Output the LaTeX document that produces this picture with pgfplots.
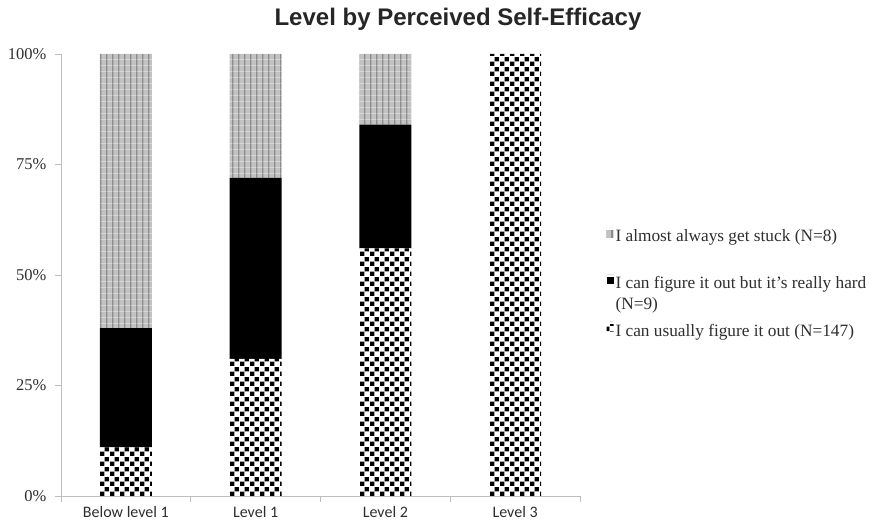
\documentclass[border=0pt]{standalone}
\usepackage{fontspec}
\setmainfont{Liberation Serif}
\newfontfamily\titlefont{Liberation Sans}
\newfontfamily\catfont{Carlito}
\usepackage{pgfplots}
\pgfplotsset{compat=1.18}
\usetikzlibrary{patterns,calc}

\definecolor{stripebg}{HTML}{C2C2C2}
\definecolor{stripefg}{HTML}{8C8C8C}
\definecolor{axisgray}{HTML}{BDBDBD}
\definecolor{labelgray}{HTML}{2E2E2E}

% light grey with thin darker vertical stripes
\pgfdeclarepatterninherentlycolored{graystripes}{\pgfpointorigin}{\pgfpoint{5.8pt}{5.8pt}}{\pgfpoint{5.8pt}{5.8pt}}{%
  \pgfsetfillcolor{stripebg}%
  \pgfpathrectangle{\pgfpointorigin}{\pgfpoint{5.8pt}{5.8pt}}\pgfusepath{fill}%
  \pgfsetfillcolor{stripefg}%
  \pgfpathrectangle{\pgfpoint{2.2pt}{0pt}}{\pgfpoint{1.3pt}{5.8pt}}\pgfusepath{fill}%
}
% small black/white checkerboard
\pgfdeclarepatterninherentlycolored{smallchecks}{\pgfpointorigin}{\pgfpoint{10pt}{10pt}}{\pgfpoint{10pt}{10pt}}{%
  \pgfsetfillcolor{white}%
  \pgfpathrectangle{\pgfpointorigin}{\pgfpoint{10pt}{10pt}}\pgfusepath{fill}%
  \pgfsetfillcolor{black}%
  \pgfpathrectangle{\pgfpoint{0.2pt}{0.2pt}}{\pgfpoint{4.6pt}{4.6pt}}\pgfusepath{fill}%
  \pgfpathrectangle{\pgfpoint{5.2pt}{5.2pt}}{\pgfpoint{4.6pt}{4.6pt}}\pgfusepath{fill}%
}

% share of students in each response, per level (percent)
\pgfplotstableread{
x usually hard stuck
0 11  27  62
1 31  41  28
2 56  28  16
3 100 0   0
}\efficacy

\begin{document}
\begin{tikzpicture}
\begin{axis}[
  scale only axis,
  width=519pt, height=442pt,
  ybar stacked,
  bar width=52pt,
  xmin=-0.5, xmax=3.5,
  ymin=0, ymax=100,
  axis x line=bottom, axis y line=left,
  axis line style={-, axisgray, line width=0.8pt},
  tick align=outside,
  major tick length=6pt,
  tick style={axisgray, line width=0.8pt},
  xtick={-0.5,0.5,1.5,2.5,3.5},
  xticklabels={},
  extra x ticks={0,1,2,3},
  extra x tick labels={Below level 1,Level 1,Level 2,Level 3},
  extra x tick style={major tick length=0pt,
    tick label style={font=\catfont\fontsize{16}{19}\selectfont, text=labelgray, yshift=-7pt}},
  ytick={0,25,50,75,100},
  yticklabels={0\%,25\%,50\%,75\%,100\%},
  yticklabel style={font=\fontsize{16.5}{19}\selectfont, text=labelgray, xshift=-5pt},
  reverse legend,
  legend style={
    at={(1.045,0.613)}, anchor=north west,
    draw=none, fill=none,
    font=\fontsize{17.3}{21}\selectfont,
    text=labelgray,
    row sep=8.5pt,
    cells={anchor=north west},
    nodes={align=left, inner xsep=2pt},
  },
  legend image code/.code={%
    \path (0pt,0pt) -- (7pt,0pt);
    \path[#1, draw=none] (0pt,-10pt) rectangle (7pt,-3pt);},
  clip=false,
]
\addplot[draw=none, pattern=smallchecks] table[x=x, y=usually] {\efficacy};
\addlegendentry{I can usually figure it out (N=147)}
\addplot[draw=none, fill=black] table[x=x, y=hard] {\efficacy};
\addlegendentry{I can figure it out but it’s really hard\\(N=9)}
\addplot[draw=none, pattern=graystripes] table[x=x, y=stuck] {\efficacy};
\addlegendentry{I almost always get stuck (N=8)\\\mbox{}}
\end{axis}
\node[font=\titlefont\bfseries\fontsize{24}{28}\selectfont, text=black!85]
  at ($(current axis.south west)+(397pt,477pt)$) {Level by Perceived Self-Efficacy};
\pgfresetboundingbox
\path (current axis.south west) ++(-61pt,-30pt) rectangle ++(877pt,526pt);
\end{tikzpicture}
\end{document}
